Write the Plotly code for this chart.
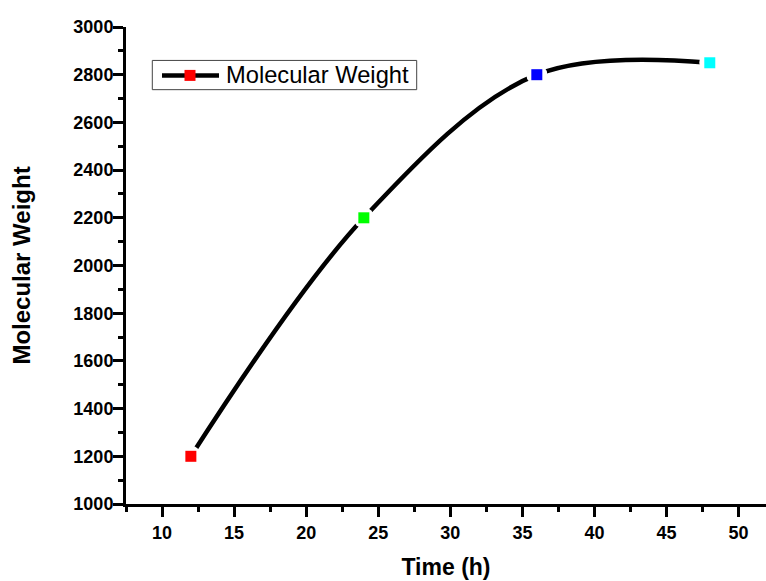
import plotly.graph_objects as go

# Molecular weight of the product sampled over reaction time
time_h = [12, 24, 36, 48]
mol_weight = [1200, 2200, 2800, 2850]
point_colors = ["#FF0000", "#00FF00", "#0000FF", "#00FFFF"]
series_name = "Molecular Weight"

x_ticks = [10, 15, 20, 25, 30, 35, 40, 45, 50]
y_ticks = [1000, 1200, 1400, 1600, 1800, 2000, 2200, 2400, 2600, 2800, 3000]

FONT = "Arial, Liberation Sans, sans-serif"

# plot-area geometry in pixels (used to place the hand-drawn legend)
W, H = 766, 581
L, R, T, B = 126, 0, 26.5, 76.5
pw, ph = W - L - R, H - T - B


def px_x(px):
    return (px - L) / pw


def px_y(py):
    return (H - B - py) / ph


fig = go.Figure()

# smooth connecting curve
fig.add_trace(go.Scatter(
    x=time_h, y=mol_weight, mode="lines",
    line=dict(color="black", width=4.5, shape="spline", smoothing=1.0),
    showlegend=False, hoverinfo="skip",
))
# white halo leaves a gap in the curve around each symbol
fig.add_trace(go.Scatter(
    x=time_h, y=mol_weight, mode="markers",
    marker=dict(symbol="circle", size=21, color="white", line=dict(width=0)),
    showlegend=False, hoverinfo="skip",
))
# coloured square symbols
fig.add_trace(go.Scatter(
    x=time_h, y=mol_weight, mode="markers", name=series_name,
    marker=dict(symbol="square", size=11, color=point_colors,
                line=dict(width=0)),
    showlegend=False,
))

# legend box drawn by hand so the sample line is long like the original
lx0, lx1, ly0, ly1 = px_x(152.3), px_x(416.7), px_y(89.3), px_y(60)
ly_mid = px_y(75)
fig.add_shape(type="rect", xref="paper", yref="paper",
              x0=lx0, x1=lx1, y0=ly0, y1=ly1,
              line=dict(color="#444444", width=1), fillcolor="white")
fig.add_shape(type="line", xref="paper", yref="paper",
              x0=px_x(162), x1=px_x(219), y0=ly_mid, y1=ly_mid,
              line=dict(color="black", width=4.5))
fig.add_shape(type="rect", xref="paper", yref="paper",
              xsizemode="pixel", ysizemode="pixel",
              xanchor=px_x(190), yanchor=ly_mid,
              x0=-5.5, x1=5.5, y0=-5.5, y1=5.5,
              line=dict(width=0), fillcolor=point_colors[0])
fig.add_annotation(xref="paper", yref="paper", x=px_x(224), y=ly_mid,
                   xanchor="left", yanchor="middle", showarrow=False,
                   text=series_name,
                   font=dict(family=FONT, size=23.7, color="black"))

axis_common = dict(
    showline=True, linecolor="black", linewidth=3,
    ticks="outside", ticklen=10, tickwidth=2.5, tickcolor="black",
    showgrid=False, zeroline=False, mirror=False,
    tickfont=dict(family=FONT, size=18, color="black", weight="bold"),
)

fig.update_xaxes(
    **axis_common,
    range=[7.5, 51.9], tickvals=x_ticks,
    ticktext=[str(v) for v in x_ticks],
    minor=dict(ticks="outside", ticklen=5, tickwidth=2.5, tickcolor="black",
               tick0=7.5, dtick=5),
    title=dict(text="Time (h)", standoff=18,
               font=dict(family=FONT, size=23, color="black", weight="bold")),
)
fig.update_yaxes(
    **axis_common,
    range=[1000, 3000], tickvals=y_ticks,
    ticktext=[str(v) for v in y_ticks],
    ticklabelstandoff=-4,
    minor=dict(ticks="outside", ticklen=5, tickwidth=2.5, tickcolor="black",
               tick0=1100, dtick=200),
    title=dict(text="Molecular Weight", standoff=36,
               font=dict(family=FONT, size=24, color="black", weight="bold")),
)

fig.update_layout(
    width=W, height=H,
    margin=dict(l=L, r=R, t=T, b=B, autoexpand=False),
    plot_bgcolor="white", paper_bgcolor="white",
    showlegend=False,
)

fig.write_html("out.html")
